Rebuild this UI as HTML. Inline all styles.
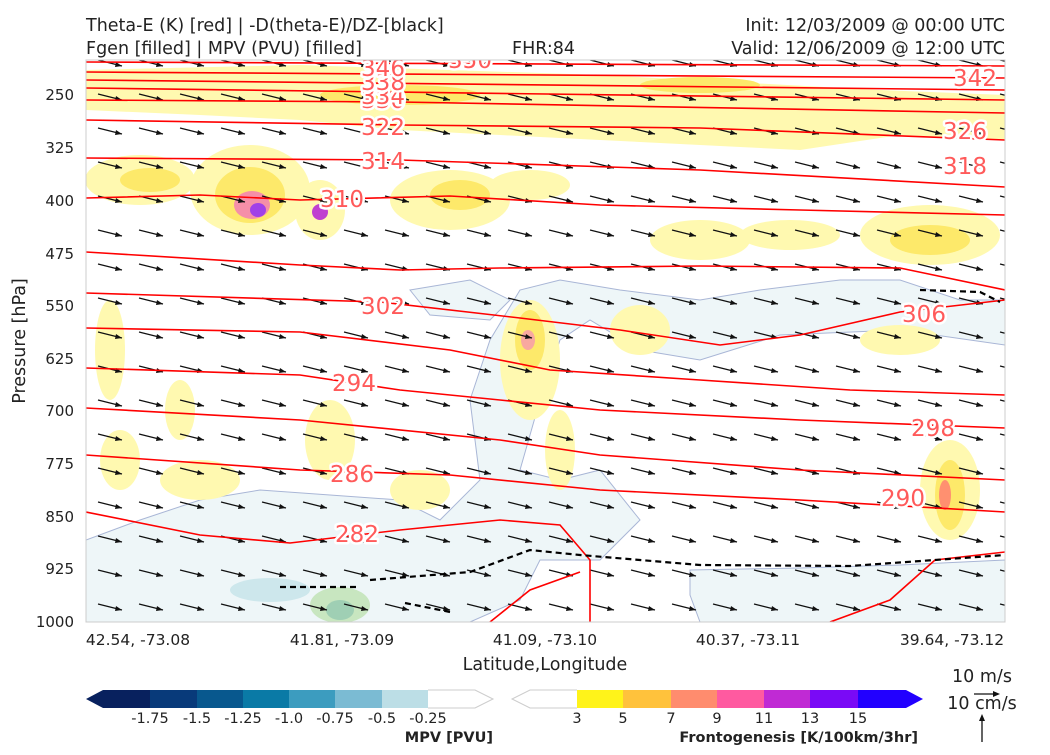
<!DOCTYPE html>
<html><head><meta charset="utf-8"><style>
body{margin:0;background:#fff;width:1050px;height:750px;overflow:hidden;font-family:"Liberation Sans","DejaVu Sans",sans-serif}
svg text{font-family:"DejaVu Sans","Liberation Sans",sans-serif}
</style></head><body>
<svg width="1050" height="750" viewBox="0 0 1050 750" xmlns="http://www.w3.org/2000/svg">
<defs>
<pattern id="arr" x="96" y="80" width="41" height="34" patternUnits="userSpaceOnUse">
<line x1="2" y1="14" x2="26" y2="20" stroke="#111" stroke-width="1.3"/><path d="M26,20 L20,16 L19,21 z" fill="#111"/>
</pattern>
<clipPath id="pc"><rect x="86" y="60" width="919" height="562"/></clipPath>
</defs>
<rect width="1050" height="750" fill="#fff"/>
<g clip-path="url(#pc)">
<g fill="#eef6f8" stroke="#a9b6d6" stroke-width="1">
<path d="M86,540 L140,520 L200,500 L260,490 L330,495 L400,500 L440,520 L480,480 L470,400 L490,340 L520,290 L560,280 L620,290 L700,300 L760,290 L840,280 L900,280 L960,300 L1005,300 L1005,345 L900,330 L780,335 L700,360 L640,350 L590,320 L560,340 L540,400 L520,470 L560,480 L600,470 L640,520 L600,560 L540,560 L520,600 L470,622 L86,622 Z"/>
<path d="M690,570 L800,568 L900,565 L1005,560 L1005,622 L700,622 L690,595 Z"/>
<path d="M410,290 L470,280 L510,300 L490,320 L430,315 Z"/>
</g>
<ellipse cx="340" cy="605" rx="30" ry="18" fill="#c8e6c0"/>
<ellipse cx="340" cy="610" rx="14" ry="10" fill="#9fcfb4"/>
<ellipse cx="270" cy="590" rx="40" ry="12" fill="#cde7ec"/>
<g fill="#fff9b0">
<path d="M86,70 L300,65 L600,75 L880,90 L1005,95 L1005,140 L900,135 L800,150 L700,145 L600,140 L500,135 L400,130 L300,120 L200,115 L86,110 Z"/>
<ellipse cx="140" cy="180" rx="55" ry="25"/><ellipse cx="250" cy="190" rx="60" ry="45"/>
<ellipse cx="320" cy="210" rx="25" ry="30"/><ellipse cx="450" cy="200" rx="60" ry="30"/>
<ellipse cx="530" cy="185" rx="40" ry="15"/><ellipse cx="700" cy="240" rx="50" ry="20"/>
<ellipse cx="790" cy="235" rx="50" ry="15"/><ellipse cx="930" cy="235" rx="70" ry="30"/>
<ellipse cx="110" cy="350" rx="15" ry="50"/><ellipse cx="900" cy="340" rx="40" ry="15"/>
<ellipse cx="530" cy="360" rx="30" ry="60"/><ellipse cx="560" cy="450" rx="15" ry="40"/>
<ellipse cx="330" cy="440" rx="25" ry="40"/><ellipse cx="200" cy="480" rx="40" ry="20"/>
<ellipse cx="950" cy="490" rx="30" ry="50"/><ellipse cx="420" cy="490" rx="30" ry="20"/>
<ellipse cx="640" cy="330" rx="30" ry="25"/><ellipse cx="180" cy="410" rx="15" ry="30"/>
<ellipse cx="120" cy="460" rx="20" ry="30"/>
</g>
<g fill="#fde96a">
<ellipse cx="150" cy="180" rx="30" ry="12"/><ellipse cx="250" cy="195" rx="35" ry="28"/>
<ellipse cx="460" cy="195" rx="30" ry="15"/><ellipse cx="930" cy="240" rx="40" ry="15"/>
<ellipse cx="950" cy="495" rx="15" ry="35"/><ellipse cx="530" cy="340" rx="15" ry="30"/>
<ellipse cx="700" cy="85" rx="60" ry="8"/><ellipse cx="400" cy="95" rx="80" ry="10"/>
</g>
<ellipse cx="252" cy="205" rx="18" ry="14" fill="#f58fa8"/>
<ellipse cx="258" cy="210" rx="8" ry="7" fill="#a040e8"/>
<ellipse cx="320" cy="212" rx="8" ry="8" fill="#c040d0"/>
<ellipse cx="528" cy="340" rx="7" ry="10" fill="#f8a8a0"/>
<ellipse cx="945" cy="495" rx="6" ry="15" fill="#ff9070"/>
<rect x="86" y="60" width="919" height="562" fill="url(#arr)"/>
<g fill="none" stroke="#ff0000" stroke-width="1.6">
<path d="M86,62 L1005,66"/>
<path d="M86,72 L1005,78"/>
<path d="M86,80 L1005,90"/>
<path d="M86,88 L1005,100"/>
<path d="M86,100 L400,102 L1005,113"/>
<path d="M86,120 L400,125 L700,128 L1005,140"/>
<path d="M86,158 L400,160 L700,170 L1005,187"/>
<path d="M86,198 L200,195 L300,200 L450,196 L600,205 L800,210 L1005,215"/>
<path d="M86,252 L300,265 L400,270 L500,268 L700,266 L900,268 L1005,290"/>
<path d="M86,293 L380,302 L520,318 L620,330 L720,345 L800,335 L900,312 L1005,300"/>
<path d="M86,328 L300,332 L450,350 L550,370 L700,380 L850,390 L1005,395"/>
<path d="M86,368 L300,375 L400,390 L500,400 L600,410 L800,420 L1005,428"/>
<path d="M86,408 L300,420 L500,440 L600,455 L800,470 L1005,480"/>
<path d="M86,455 L300,470 L450,475 L600,490 L800,500 L1005,512"/>
<path d="M86,512 L200,535 L290,543 L400,530 L500,520 L560,525 L590,560 L590,622"/>
<path d="M490,622 L530,590 L580,572"/>
<path d="M830,622 L890,600 L935,560 L1005,552"/>
</g>
<g fill="none" stroke="#000" stroke-width="2.2" stroke-dasharray="6,4">
<path d="M280,587 L360,587"/>
<path d="M370,580 L470,572 L530,550 L580,555 L700,565 L850,566 L1005,555"/>
<path d="M920,290 L980,292 L1000,302"/>
<path d="M405,603 L450,612"/>
</g>
<g font-size="23" fill="#ff5a5a" text-anchor="middle" stroke="#fff" stroke-width="5" paint-order="stroke" stroke-linejoin="round">
<text x="470" y="68">350</text>
<text x="383" y="108">330</text><text x="383" y="104">334</text><text x="383" y="90">338</text><text x="383" y="76">346</text>
<text x="975" y="86">342</text><text x="383" y="135">322</text><text x="965" y="139">326</text>
<text x="383" y="169">314</text><text x="965" y="174">318</text><text x="342" y="207">310</text>
<text x="383" y="314">302</text><text x="924" y="322">306</text><text x="354" y="391">294</text>
<text x="933" y="436">298</text><text x="352" y="482">286</text><text x="903" y="506">290</text>
<text x="357" y="542">282</text>
</g>
</g>
<rect x="86" y="60" width="919" height="562" fill="none" stroke="#ccc" stroke-width="1"/>
<g font-size="17.5" fill="#222">
<text x="86" y="31">Theta-E (K) [red] | -D(theta-E)/DZ-[black]</text>
<text x="86" y="54">Fgen [filled] | MPV (PVU) [filled]</text>
<text x="512" y="54">FHR:84</text>
<text x="1005" y="31" text-anchor="end">Init: 12/03/2009 @ 00:00 UTC</text>
<text x="1005" y="54" text-anchor="end">Valid: 12/06/2009 @ 12:00 UTC</text>
</g>
<g font-size="15" fill="#222" text-anchor="end">
<text x="74" y="100">250</text><text x="74" y="153">325</text><text x="74" y="206">400</text>
<text x="74" y="259">475</text><text x="74" y="311">550</text><text x="74" y="364">625</text>
<text x="74" y="416">700</text><text x="74" y="469">775</text><text x="74" y="522">850</text>
<text x="74" y="574">925</text><text x="74" y="627">1000</text>
</g>
<text transform="translate(25,341) rotate(-90)" font-size="17.5" fill="#222" text-anchor="middle">Pressure [hPa]</text>
<g font-size="15.5" fill="#222" text-anchor="middle">
<text x="138" y="645">42.54, -73.08</text><text x="342" y="645">41.81, -73.09</text>
<text x="545" y="645">41.09, -73.10</text><text x="748" y="645">40.37, -73.11</text>
<text x="952" y="645">39.64, -73.12</text>
</g>
<text x="545" y="670" font-size="17.5" fill="#222" text-anchor="middle">Latitude,Longitude</text>
<path d="M103,690 L86,699 L103,708 Z" fill="#08215e"/>
<rect x="103" y="690" width="47" height="18" fill="#08215e"/>
<rect x="150" y="690" width="47" height="18" fill="#083a7a"/>
<rect x="197" y="690" width="46" height="18" fill="#08588e"/>
<rect x="243" y="690" width="46" height="18" fill="#0a7aa6"/>
<rect x="289" y="690" width="46" height="18" fill="#3c9cbf"/>
<rect x="335" y="690" width="47" height="18" fill="#7bbbd3"/>
<rect x="382" y="690" width="46" height="18" fill="#bcdee6"/>
<path d="M428,690 L475,690 L493,699 L475,708 L428,708" fill="#fff" stroke="#ccc"/>
<g font-size="14.5" fill="#222" text-anchor="middle">
<text x="150" y="723">-1.75</text><text x="197" y="723">-1.5</text><text x="243" y="723">-1.25</text>
<text x="289" y="723">-1.0</text><text x="335" y="723">-0.75</text><text x="382" y="723">-0.5</text><text x="428" y="723">-0.25</text>
</g>
<text x="493" y="742" font-size="14.5" font-weight="bold" fill="#222" text-anchor="end">MPV [PVU]</text>
<path d="M577,690 L530,690 L512,699 L530,708 L577,708" fill="#fff" stroke="#ccc"/>
<rect x="577" y="690" width="46" height="18" fill="#fff31a"/>
<rect x="623" y="690" width="48" height="18" fill="#ffc23c"/>
<rect x="671" y="690" width="46" height="18" fill="#ff8c6e"/>
<rect x="717" y="690" width="47" height="18" fill="#ff5aa0"/>
<rect x="764" y="690" width="46" height="18" fill="#c02ad4"/>
<rect x="810" y="690" width="48" height="18" fill="#7a0af6"/>
<rect x="858" y="690" width="48" height="18" fill="#2200ff"/>
<path d="M906,690 L923,699 L906,708 Z" fill="#2200ff"/>
<g font-size="14.5" fill="#222" text-anchor="middle">
<text x="577" y="723">3</text><text x="623" y="723">5</text><text x="671" y="723">7</text>
<text x="717" y="723">9</text><text x="764" y="723">11</text><text x="810" y="723">13</text><text x="858" y="723">15</text>
</g>
<text x="918" y="742" font-size="14.5" font-weight="bold" fill="#222" text-anchor="end">Frontogenesis [K/100km/3hr]</text>
<text x="982" y="682" font-size="17.5" fill="#222" text-anchor="middle">10 m/s</text>
<text x="982" y="709" font-size="17.5" fill="#222" text-anchor="middle">10 cm/s</text>
<line x1="974" y1="694" x2="996" y2="694" stroke="#111" stroke-width="1.3"/><path d="M1000,694 L993,691 L993,697 z" fill="#111"/>
<line x1="982" y1="742" x2="982" y2="718" stroke="#111" stroke-width="1.3"/><path d="M982,714 L979,721 L985,721 z" fill="#111"/>
</svg>
</body></html>
